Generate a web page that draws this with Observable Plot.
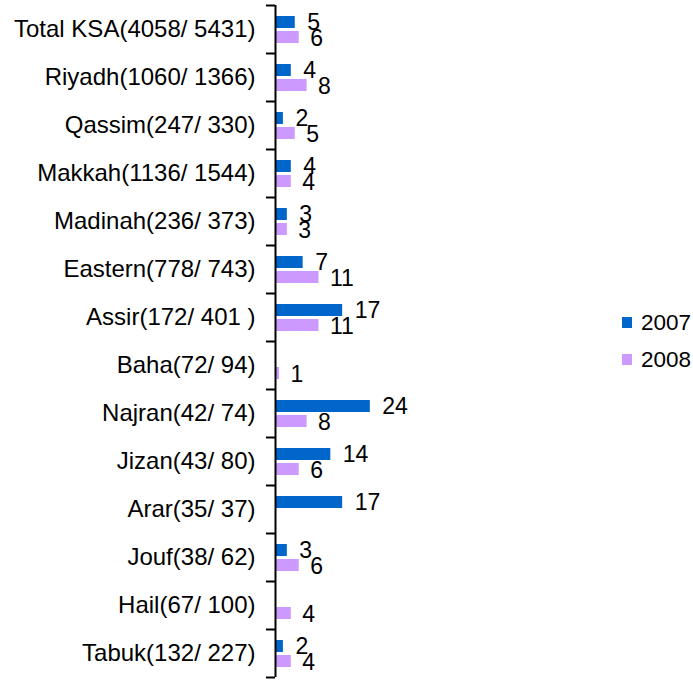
<!DOCTYPE html>
<html>
<head>
<meta charset="utf-8">
<script src="https://cdn.jsdelivr.net/npm/d3@7"></script>
<script src="https://cdn.jsdelivr.net/npm/@observablehq/plot@0.6"></script>
<style>
  body { margin: 0; background: #fff; }
  #wrap { position: relative; width: 693px; height: 680px; font-family: "Liberation Sans", Arial, sans-serif; }
  #legend { position: absolute; left: 622px; top: 304px; font-size: 22.5px; color: #000; }
  .item { display: flex; align-items: center; height: 37px; }
  .sw { width: 10px; height: 11px; margin-right: 9px; }
</style>
</head>
<body>
<div id="wrap"><div id="legend"></div></div>
<script>
const categories = ["Total KSA(4058/ 5431)", "Riyadh(1060/ 1366)", "Qassim(247/ 330)", "Makkah(1136/ 1544)", "Madinah(236/ 373)", "Eastern(778/ 743)", "Assir(172/ 401 )", "Baha(72/ 94)", "Najran(42/ 74)", "Jizan(43/ 80)", "Arar(35/ 37)", "Jouf(38/ 62)", "Hail(67/ 100)", "Tabuk(132/ 227)"];
const series = ["2007", "2008"];
const values2007 = [5, 4, 2, 4, 3, 7, 17, null, 24, 14, 17, 3, null, 2];
const values2008 = [6, 8, 5, 4, 3, 11, 11, 1, 8, 6, null, 6, 4, 4];
const colors = ["#0066CC", "#CC99FF"];

const d2007 = categories.map((c, i) => ({cat: c, v: values2007[i]})).filter(d => d.v != null);
const d2008 = categories.map((c, i) => ({cat: c, v: values2008[i]})).filter(d => d.v != null);
const font = "Liberation Sans, Arial, sans-serif";

const chart = Plot.plot({
  width: 693,
  height: 680,
  marginLeft: 275,
  marginRight: 0,
  marginTop: 5,
  marginBottom: 3,
  style: {fontFamily: font, fontSize: "23px", color: "#000", background: "#fff"},
  x: {domain: [0, 105.8], axis: null},
  y: {domain: categories, padding: 0, label: null},
  marks: [
    Plot.barX(d2007, {y: "cat", x: "v", fill: colors[0], insetTop: 11, insetBottom: 25}),
    Plot.barX(d2008, {y: "cat", x: "v", fill: colors[1], insetTop: 26, insetBottom: 10}),
    Plot.text(d2007, {y: "cat", x: "v", text: d => String(d.v), textAnchor: "start", dx: 12, dy: -7, fontSize: 23, fill: "#000"}),
    Plot.text(d2008, {y: "cat", x: "v", text: d => String(d.v), textAnchor: "start", dx: 11, dy: 9, fontSize: 23, fill: "#000"}),
    Plot.axisY({tickSize: 0, tickPadding: 20, fontSize: 24, label: null}),
    Plot.axisY({tickSize: 9, text: null, dy: -24, strokeWidth: 2, label: null}),
    Plot.axisY({ticks: [categories[categories.length - 1]], tickSize: 9, text: null, dy: 24, strokeWidth: 2, label: null}),
    Plot.ruleX([0], {stroke: "#000", strokeWidth: 2})
  ]
});
document.getElementById("wrap").prepend(chart);

const legend = document.getElementById("legend");
series.forEach((s, i) => {
  const item = document.createElement("div");
  item.className = "item";
  const sw = document.createElement("div");
  sw.className = "sw";
  sw.style.background = colors[i];
  const t = document.createElement("span");
  t.textContent = s;
  item.append(sw, t);
  legend.append(item);
});
</script>
</body>
</html>
